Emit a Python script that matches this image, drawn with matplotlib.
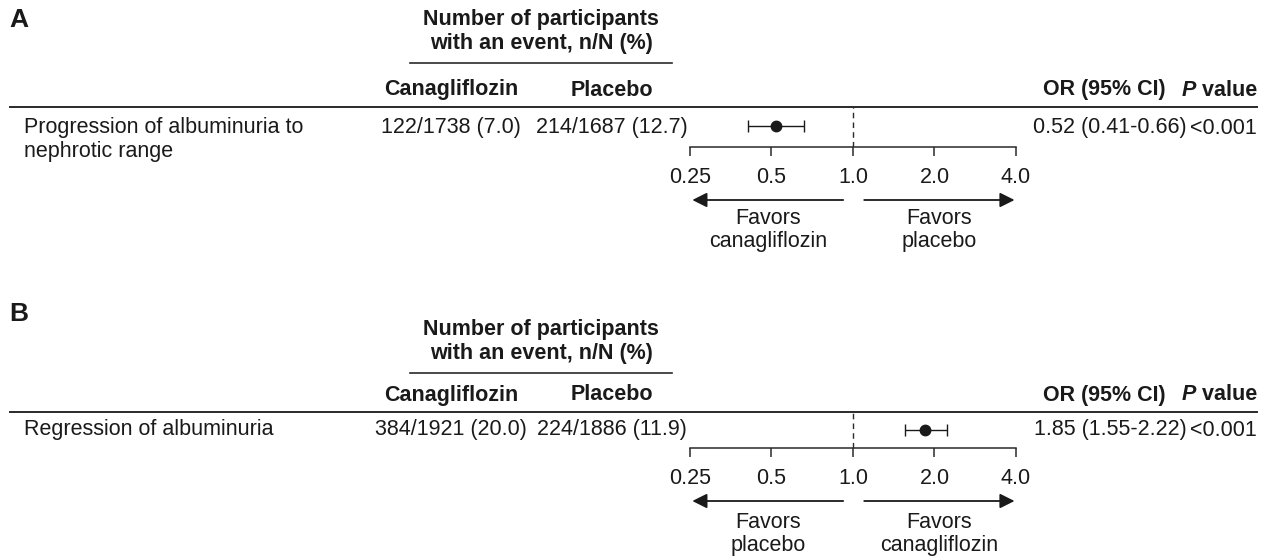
import matplotlib
matplotlib.use("Agg")
import matplotlib.pyplot as plt
from matplotlib.lines import Line2D

# ---------------- data ----------------
panel_letters = ["A", "B"]
outcomes = [["Progression of albuminuria to", "nephrotic range"],
            ["Regression of albuminuria"]]
cana_events = ["122/1738 (7.0)", "384/1921 (20.0)"]
placebo_events = ["214/1687 (12.7)", "224/1886 (11.9)"]
or_est = [0.52, 1.85]
or_lo = [0.41, 1.55]
or_hi = [0.66, 2.22]
p_values = ["<0.001", "<0.001"]
favors_left = [["Favors", "canagliflozin"], ["Favors", "placebo"]]
favors_right = [["Favors", "placebo"], ["Favors", "canagliflozin"]]
tick_values = [0.25, 0.5, 1.0, 2.0, 4.0]
tick_labels = ["0.25", "0.5", "1.0", "2.0", "4.0"]

# ---------------- layout (pixels, y from top) ----------------
W, H = 1268, 560
FS = 15.5
LFS = 19
TXT = "#1a1a1a"
plt.rcParams["font.family"] = ["Liberation Sans", "DejaVu Sans"]

layout = [
    dict(letter=20, num1=20, num2=43, uline=63, head=90, rule=107, row=128,
         row2=152, axis=147, ylim=(-1.1, 1.0), arrow=200, fav1=218, fav2=241),
    dict(letter=314, num1=330, num2=353, uline=373, head=395, rule=412, row=430,
         row2=454, axis=448, ylim=(-1.0, 1.0), arrow=501, fav1=522, fav2=546),
]
X_LEFT, X_RIGHT = 690, 1016
X_CANA, X_PLAC, X_NUM = 451, 612, 541

fig = plt.figure(figsize=(W / 100, H / 100), dpi=100)


def fx(x):
    return x / W


def fy(y):
    return 1 - y / H


def ftext(x, y, s, **kw):
    kw.setdefault("fontsize", FS)
    kw.setdefault("color", TXT)
    kw.setdefault("va", "center")
    return fig.text(fx(x), fy(y), s, **kw)


def fline(x0, x1, y, lw=1.2):
    fig.add_artist(Line2D([fx(x0), fx(x1)], [fy(y), fy(y)], lw=lw,
                          color="#2a2a2a", transform=fig.transFigure))


renderer = fig.canvas.get_renderer()

for i, L in enumerate(layout):
    # panel letter
    ftext(9, L["letter"], panel_letters[i], fontsize=LFS, weight="bold", ha="left")
    # column group header
    ftext(X_NUM, L["num1"], "Number of participants", weight="bold", ha="center")
    ftext(X_NUM, L["num2"], "with an event, n/N (%)", weight="bold", ha="center")
    fline(410, 672, L["uline"])
    ftext(X_CANA, L["head"], "Canagliflozin", weight="bold", ha="center")
    ftext(X_PLAC, L["head"], "Placebo", weight="bold", ha="center")
    ftext(1166, L["head"], "OR (95% CI)", weight="bold", ha="right")
    tv = ftext(1257, L["head"], " value", weight="bold", ha="right")
    bb = tv.get_window_extent(renderer)
    fig.text(bb.x0 / W, fy(L["head"]), "P", fontsize=FS, color=TXT, va="center",
             ha="right", weight="bold", style="italic")
    fline(10, 1257, L["rule"], lw=1.4)

    # row
    ftext(24, L["row"], outcomes[i][0], ha="left")
    if len(outcomes[i]) > 1:
        ftext(24, L["row2"], outcomes[i][1], ha="left")
    ftext(X_CANA, L["row"], cana_events[i], ha="center")
    ftext(X_PLAC, L["row"], placebo_events[i], ha="center")
    ftext(1187, L["row"], f"{or_est[i]:.2f} ({or_lo[i]:.2f}-{or_hi[i]:.2f})", ha="right")
    ftext(1257, L["row"], p_values[i], ha="right")

    # forest axes
    ax_h = L["axis"] - L["rule"]
    ax = fig.add_axes([fx(X_LEFT), fy(L["axis"]), (X_RIGHT - X_LEFT) / W, ax_h / H])
    ax.set_xscale("log", base=2)
    ax.set_xlim(0.25, 4.0)
    ax.set_ylim(*L["ylim"])
    ax.patch.set_alpha(0)
    for s in ["top", "left", "right"]:
        ax.spines[s].set_visible(False)
    ax.spines["bottom"].set_linewidth(1.1)
    ax.spines["bottom"].set_color("#2a2a2a")
    ax.set_yticks([])
    ax.set_xticks(tick_values)
    ax.set_xticklabels(tick_labels)
    ax.xaxis.set_minor_locator(matplotlib.ticker.NullLocator())
    ax.tick_params(axis="x", direction="out", length=6.5, width=1.1, pad=8,
                   labelsize=FS, colors="#2a2a2a", labelcolor=TXT)
    ax.axvline(1.0, color="#2a2a2a", lw=1.0, ls=(0, (4, 3)))
    ax.errorbar([or_est[i]], [0],
                xerr=[[or_est[i] - or_lo[i]], [or_hi[i] - or_est[i]]],
                fmt="o", color="#1a1a1a", ms=7.5, lw=1.0, capsize=4, capthick=1.0)

    # arrows and favors labels
    ya = (L["axis"] - L["arrow"]) / ax_h
    tr = ax.get_xaxis_transform()
    ax.annotate("", xy=(0.255, ya), xytext=(0.92, ya), xycoords=tr, textcoords=tr,
                arrowprops=dict(arrowstyle="-|>", color="#1a1a1a", lw=1.3,
                                mutation_scale=22, shrinkA=0, shrinkB=0),
                annotation_clip=False)
    ax.annotate("", xy=(3.95, ya), xytext=(1.1, ya), xycoords=tr, textcoords=tr,
                arrowprops=dict(arrowstyle="-|>", color="#1a1a1a", lw=1.3,
                                mutation_scale=22, shrinkA=0, shrinkB=0),
                annotation_clip=False)
    cl = (0.255 * 0.92) ** 0.5
    cr = (3.95 * 1.1) ** 0.5
    for line, key in zip(favors_left[i], ["fav1", "fav2"]):
        yy = (L["axis"] - L[key]) / ax_h
        ax.text(cl, yy, line, transform=tr, ha="center", va="center",
                fontsize=FS, color=TXT, clip_on=False)
    for line, key in zip(favors_right[i], ["fav1", "fav2"]):
        yy = (L["axis"] - L[key]) / ax_h
        ax.text(cr, yy, line, transform=tr, ha="center", va="center",
                fontsize=FS, color=TXT, clip_on=False)

fig.savefig("out.png", dpi=100)
